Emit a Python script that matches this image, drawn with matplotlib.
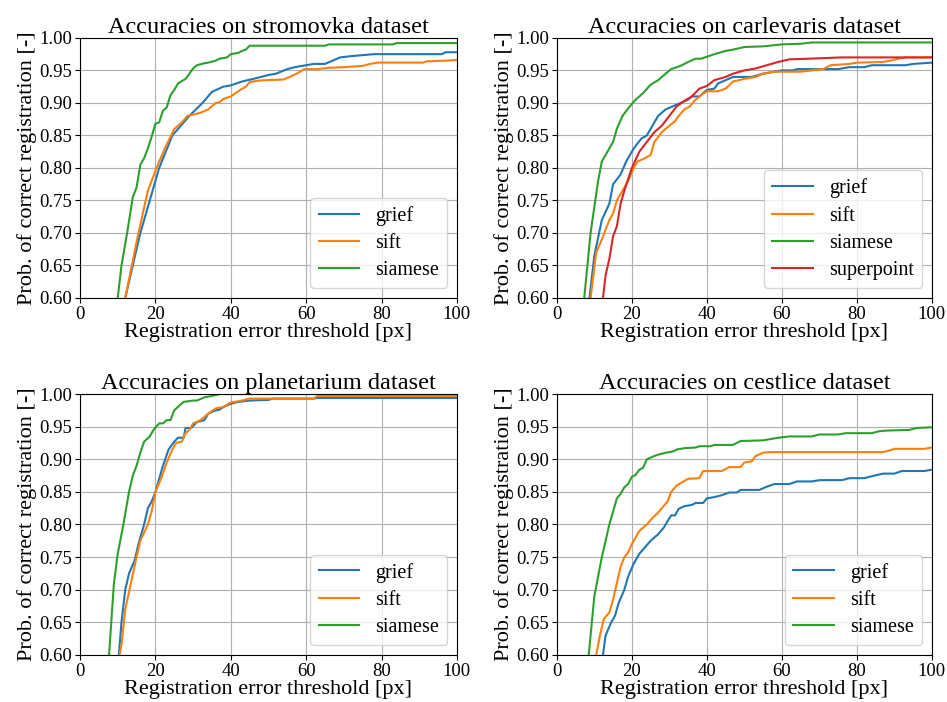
import matplotlib
matplotlib.use('Agg')
import matplotlib.pyplot as plt

plt.rcParams['font.family'] = ['Liberation Serif', 'DejaVu Serif']

# stromovka
stro_grief_x = [11.5, 12, 16, 21, 24.5, 29, 32.5, 35, 38, 40, 43, 46, 50, 52, 55, 57, 60, 62, 65, 67, 69, 72, 78, 96, 97, 100]
stro_grief_y = [0.58, 0.60, 0.70, 0.80, 0.85, 0.88, 0.90, 0.917, 0.925, 0.927, 0.933, 0.937, 0.943, 0.945, 0.952, 0.955, 0.958, 0.96, 0.96, 0.965, 0.97, 0.972, 0.975, 0.975, 0.978, 0.978]
stro_sift_x = [11.5, 12, 15.5, 18, 20.3, 22.5, 25, 27, 28.5, 30, 32, 34, 36, 37, 38, 40, 42.5, 44, 45, 47, 49, 54, 56, 57.5, 59.5, 63, 66, 70, 75, 77, 79, 91, 92, 97, 100]
stro_sift_y = [0.58, 0.60, 0.70, 0.765, 0.80, 0.83, 0.86, 0.87, 0.88, 0.882, 0.885, 0.89, 0.90, 0.901, 0.906, 0.91, 0.92, 0.925, 0.932, 0.934, 0.935, 0.936, 0.941, 0.945, 0.952, 0.952, 0.954, 0.955, 0.957, 0.96, 0.962, 0.962, 0.964, 0.965, 0.966]
stro_siam_x = [9.7, 10, 11, 12.5, 14, 15, 16, 17, 18, 19, 20, 21, 22, 23, 24, 25, 26, 28, 29, 30, 31, 33, 34, 36, 37, 39, 40, 42, 43, 44, 45, 65, 66, 83, 84, 100]
stro_siam_y = [0.58, 0.60, 0.65, 0.70, 0.755, 0.77, 0.805, 0.815, 0.83, 0.848, 0.868, 0.87, 0.888, 0.893, 0.912, 0.92, 0.93, 0.937, 0.945, 0.953, 0.958, 0.961, 0.962, 0.965, 0.968, 0.97, 0.975, 0.977, 0.98, 0.982, 0.988, 0.988, 0.99, 0.99, 0.992, 0.992]

# carlevaris
carl_grief_x = [8.4, 8.7, 10, 12, 14, 15, 17, 18.5, 20.5, 22.5, 24, 25.5, 27, 29, 31, 33, 35, 36, 38, 39, 40, 42, 43, 45, 47, 52, 55, 58, 60, 63, 64, 75, 78, 82, 84, 93, 95, 100]
carl_grief_y = [0.58, 0.60, 0.665, 0.72, 0.745, 0.775, 0.79, 0.81, 0.83, 0.845, 0.85, 0.865, 0.88, 0.89, 0.895, 0.90, 0.905, 0.91, 0.91, 0.915, 0.92, 0.922, 0.93, 0.935, 0.94, 0.94, 0.945, 0.948, 0.95, 0.95, 0.952, 0.952, 0.955, 0.955, 0.958, 0.958, 0.96, 0.962]
carl_sift_x = [8.7, 9, 10.5, 12, 14, 15, 16, 17, 19, 20.5, 21.5, 23.5, 25, 26, 28, 30, 31.5, 32.5, 34, 35.5, 37, 38.5, 40, 43, 45, 47, 50, 53, 55, 58, 65, 68, 71, 73, 78, 80, 87, 89, 91, 93, 100]
carl_sift_y = [0.58, 0.60, 0.67, 0.69, 0.72, 0.73, 0.75, 0.76, 0.78, 0.80, 0.81, 0.815, 0.82, 0.84, 0.855, 0.865, 0.872, 0.88, 0.89, 0.895, 0.905, 0.912, 0.918, 0.918, 0.922, 0.933, 0.937, 0.94, 0.945, 0.948, 0.948, 0.95, 0.952, 0.958, 0.96, 0.962, 0.963, 0.965, 0.968, 0.97, 0.97]
carl_siam_x = [7.0, 7.3, 9, 11, 12, 13.5, 15, 16, 17.5, 19.5, 21, 23, 25, 27, 29, 30.5, 33, 35, 37, 38.5, 42, 45, 47, 50, 55, 60, 65, 68, 100]
carl_siam_y = [0.58, 0.60, 0.70, 0.78, 0.81, 0.825, 0.84, 0.86, 0.88, 0.895, 0.905, 0.915, 0.928, 0.935, 0.945, 0.952, 0.957, 0.963, 0.968, 0.968, 0.975, 0.98, 0.982, 0.986, 0.987, 0.99, 0.991, 0.993, 0.993]
carl_sp_x = [12.1, 12.3, 13, 14, 15, 16, 17, 18, 20, 22, 24, 26, 28, 30, 32, 34.5, 36, 38, 40, 42, 45, 47, 50, 53, 56, 59, 62, 67, 76, 100]
carl_sp_y = [0.58, 0.60, 0.635, 0.66, 0.695, 0.71, 0.745, 0.765, 0.80, 0.825, 0.84, 0.855, 0.865, 0.88, 0.895, 0.905, 0.91, 0.922, 0.926, 0.935, 0.94, 0.945, 0.95, 0.953, 0.958, 0.963, 0.967, 0.968, 0.97, 0.97]

# planetarium
plan_grief_x = [10.1, 10.3, 11, 12, 13, 14.5, 15.5, 17, 18, 19, 20, 22, 23.5, 25, 26, 27.5, 28, 29.5, 31, 33, 34, 36, 37, 38, 40, 42, 45, 50, 51, 62, 63, 100]
plan_grief_y = [0.58, 0.60, 0.65, 0.70, 0.725, 0.745, 0.77, 0.80, 0.825, 0.835, 0.85, 0.89, 0.915, 0.927, 0.933, 0.933, 0.948, 0.948, 0.957, 0.96, 0.97, 0.975, 0.976, 0.98, 0.985, 0.988, 0.99, 0.991, 0.993, 0.993, 0.994, 0.994]
plan_sift_x = [10.3, 10.5, 11, 12, 13.5, 15, 16, 18, 19, 20, 21.5, 23, 24.5, 25.5, 27, 28, 29, 30, 32, 34, 36, 38, 40, 43, 45, 62, 63, 100]
plan_sift_y = [0.58, 0.60, 0.615, 0.67, 0.71, 0.75, 0.775, 0.80, 0.82, 0.85, 0.87, 0.895, 0.915, 0.925, 0.927, 0.94, 0.945, 0.955, 0.96, 0.97, 0.978, 0.98, 0.987, 0.99, 0.993, 0.993, 0.997, 0.997]
plan_siam_x = [7.5, 7.7, 9, 10, 11.5, 13, 14, 15, 16, 17, 18.5, 19.5, 21, 22, 23, 24, 25, 26.5, 27.5, 30, 31, 33, 35, 37, 100]
plan_siam_y = [0.58, 0.60, 0.71, 0.755, 0.80, 0.85, 0.875, 0.89, 0.91, 0.927, 0.935, 0.945, 0.955, 0.955, 0.96, 0.96, 0.975, 0.983, 0.988, 0.99, 0.99, 0.995, 0.997, 1.0, 1.0]

# cestlice
cest_grief_x = [12.1, 12.3, 13, 14.5, 15.5, 16.5, 18, 19, 20.5, 22, 23.5, 25, 27, 28.5, 29.5, 30.5, 31.5, 32.5, 34, 36, 37, 39, 40, 42, 44, 46, 48, 49, 54, 56, 58, 62, 64, 68, 70, 76, 78, 82, 84, 87, 90, 92, 98, 100]
cest_grief_y = [0.58, 0.60, 0.63, 0.65, 0.66, 0.68, 0.70, 0.72, 0.74, 0.755, 0.765, 0.775, 0.785, 0.795, 0.805, 0.814, 0.814, 0.824, 0.828, 0.83, 0.833, 0.833, 0.84, 0.842, 0.845, 0.849, 0.849, 0.853, 0.853, 0.858, 0.862, 0.862, 0.866, 0.866, 0.868, 0.868, 0.871, 0.871, 0.874, 0.878, 0.878, 0.882, 0.882, 0.884]
cest_sift_x = [10.3, 10.5, 11.5, 12.5, 14, 15, 16, 17, 18, 19, 20, 21, 22, 24, 25.5, 27, 28, 29.5, 30.5, 32, 33.5, 35, 38, 39, 44, 46, 49, 50, 52, 53, 55, 57, 87, 89, 90, 98, 100]
cest_sift_y = [0.58, 0.60, 0.63, 0.655, 0.665, 0.685, 0.71, 0.735, 0.75, 0.757, 0.77, 0.78, 0.79, 0.80, 0.81, 0.818, 0.825, 0.835, 0.85, 0.86, 0.865, 0.87, 0.871, 0.882, 0.882, 0.888, 0.888, 0.895, 0.897, 0.905, 0.91, 0.911, 0.911, 0.914, 0.916, 0.916, 0.918]
cest_siam_x = [8.3, 8.5, 10, 12, 14, 16, 17, 18, 19, 20, 21, 22, 23, 24, 26, 27, 29, 31, 32, 34, 37, 38, 41, 42, 47, 49, 55, 57, 59, 62, 68, 70, 75, 77, 84, 86, 88, 94, 96, 100]
cest_siam_y = [0.58, 0.60, 0.69, 0.75, 0.80, 0.84, 0.847, 0.857, 0.862, 0.873, 0.876, 0.884, 0.887, 0.90, 0.905, 0.907, 0.91, 0.912, 0.915, 0.917, 0.918, 0.92, 0.92, 0.922, 0.922, 0.928, 0.929, 0.931, 0.933, 0.935, 0.935, 0.938, 0.938, 0.94, 0.94, 0.943, 0.944, 0.945, 0.948, 0.949]

panels = [
    ('stromovka', [('grief', stro_grief_x, stro_grief_y), ('sift', stro_sift_x, stro_sift_y),
                   ('siamese', stro_siam_x, stro_siam_y)]),
    ('carlevaris', [('grief', carl_grief_x, carl_grief_y), ('sift', carl_sift_x, carl_sift_y),
                    ('siamese', carl_siam_x, carl_siam_y), ('superpoint', carl_sp_x, carl_sp_y)]),
    ('planetarium', [('grief', plan_grief_x, plan_grief_y), ('sift', plan_sift_x, plan_sift_y),
                     ('siamese', plan_siam_x, plan_siam_y)]),
    ('cestlice', [('grief', cest_grief_x, cest_grief_y), ('sift', cest_sift_x, cest_sift_y),
                  ('siamese', cest_siam_x, cest_siam_y)]),
]

# axes rectangles [left, bottom, width, height]
rects = [
    [0.0845, 0.5755, 0.398, 0.3705],
    [0.588, 0.5755, 0.396, 0.3705],
    [0.0845, 0.067, 0.398, 0.3717],
    [0.588, 0.067, 0.396, 0.3717],
]

fig = plt.figure(figsize=(9.47, 7.02), dpi=100)
for (name, series), r in zip(panels, rects):
    ax = fig.add_axes(r)
    for label, xs, ys in series:
        ax.plot(xs, ys, label=label, linewidth=1.5)
    ax.set_xlim(0, 100)
    ax.set_ylim(0.6, 1.0)
    ax.set_yticks([0.6, 0.65, 0.7, 0.75, 0.8, 0.85, 0.9, 0.95, 1.0])
    ax.yaxis.set_major_formatter(matplotlib.ticker.FormatStrFormatter('%.2f'))
    ax.grid(True)
    ax.tick_params(labelsize=13.5, pad=2)
    ax.set_title('Accuracies on %s dataset' % name, fontsize=17.5, pad=2)
    ax.set_xlabel('Registration error threshold [px]', fontsize=16, labelpad=0)
    ax.set_ylabel('Prob. of correct registration [-]', fontsize=16, labelpad=2)
    ax.legend(loc='lower right', fontsize=14.5, labelspacing=0.4, handlelength=2.0)

fig.savefig('out.png', dpi=100)
